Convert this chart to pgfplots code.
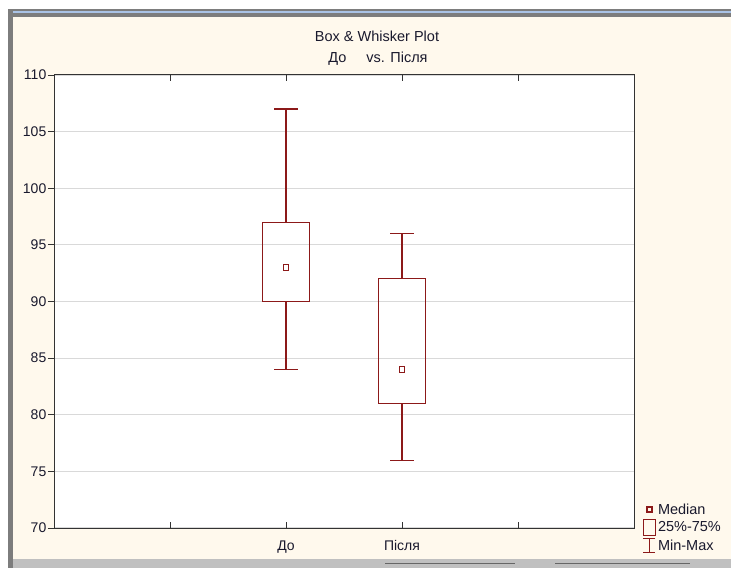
\documentclass[border=0pt]{standalone}
\usepackage{fontspec}
\setmainfont{Liberation Sans}
\usepackage{pgfplots}
\pgfplotsset{compat=1.18}
\usepgfplotslibrary{statistics}
\definecolor{boxred}{RGB}{140,25,25}
\definecolor{cream}{RGB}{255,249,237}
\definecolor{framegray}{RGB}{125,125,125}
\definecolor{frameblue}{RGB}{170,195,230}
\definecolor{bargray}{RGB}{192,192,192}
\definecolor{tickcol}{RGB}{25,25,45}
\begin{document}
\begin{tikzpicture}[x=1pt,y=1pt]
\useasboundingbox (0,0) rectangle (731,568);
\fill[white] (0,0) rectangle (731,568);
\fill[cream] (8,9) rectangle (731,559);
\fill[framegray] (8,551) rectangle (731,559);
\fill[frameblue] (13,555) rectangle (731,557);
\fill[framegray] (8,0) rectangle (13,559);
\fill[bargray] (13,0) rectangle (731,9);
\draw[black!60, line width=1pt] (385,4.5) -- (515,4.5) (555,4.5) -- (690,4.5);
\node[font=\fontsize{14.5}{17}\selectfont, text=tickcol] at (377,532) {Box \& Whisker Plot};
\node[font=\fontsize{14.5}{17}\selectfont, text=tickcol] at (378,509) {До\hspace{20pt}vs. Після};
\begin{axis}[
  at={(54pt,40pt)}, anchor=south west,
  scale only axis, width=580pt, height=453pt,
  xmin=0, xmax=5, ymin=70, ymax=110,
  axis background/.style={fill=white},
  xtick={1,2,3,4}, xticklabels={,До,Після,},
  ytick={70,75,...,110},
  ymajorgrids, grid style={color=black!15, line width=1.2pt},
  xtick align=inside, ytick align=outside, major tick length=6pt,
  ytick pos=left,
  tick style={black!80, line width=0.8pt},
  axis line style={line width=1pt, black!80},
  ticklabel style={font=\fontsize{14}{16}\selectfont, text=tickcol},
  yticklabel style={inner sep=1.5pt},
  xticklabel style={yshift=-9pt},
  /pgf/number format/assume math mode=true,
  boxplot/draw direction=y,
  boxplot/draw/median/.code={},
  legend style={at={(1.015,-0.057)}, anchor=south west, draw=none, fill=none,
    font=\fontsize{14.5}{17}\selectfont, text=tickcol, row sep=1.5pt, inner sep=0pt},
  legend cell align=left,
]
\addplot[boxred, line width=1.1pt, forget plot,
  boxplot prepared={lower whisker=84, lower quartile=90, median=93,
    upper quartile=97, upper whisker=107, draw position=2,
    box extend=0.4, whisker extend=0.2}] coordinates {};
\addplot[boxred, line width=1.1pt, forget plot,
  boxplot prepared={lower whisker=76, lower quartile=81, median=84,
    upper quartile=92, upper whisker=96, draw position=3,
    box extend=0.4, whisker extend=0.2}] coordinates {};
\addplot[only marks, mark=square, mark size=2.8pt, boxred, line width=1.2pt, forget plot]
  coordinates {(2,93) (3,84)};
\addlegendimage{only marks, mark=square, mark size=2.5pt, boxred, line width=1.2pt}
\addlegendentry{Median}
\addlegendimage{legend image code/.code={\draw[boxred,line width=1.1pt] (2.5pt,-8pt) rectangle (14.5pt,8pt);}}
\addlegendentry{25\%-75\%}
\addlegendimage{legend image code/.code={\draw[boxred,line width=1.1pt] (8.5pt,-7pt)--(8.5pt,7pt) (2.5pt,7pt)--(14.5pt,7pt) (2.5pt,-7pt)--(14.5pt,-7pt);}}
\addlegendentry{Min-Max}
\end{axis}
\end{tikzpicture}
\end{document}
